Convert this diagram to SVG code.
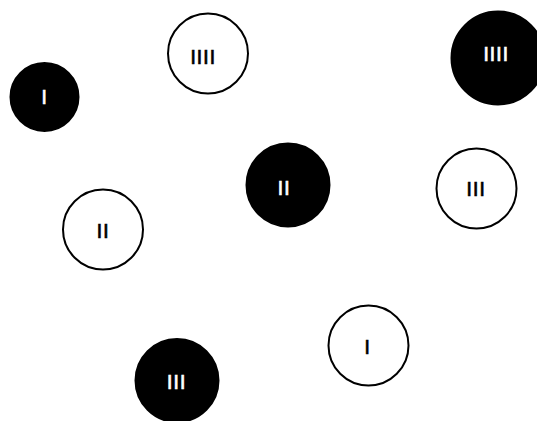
<svg xmlns="http://www.w3.org/2000/svg" width="537" height="421" viewBox="0 0 537 421">
<style>
.bk circle{fill:#000;stroke:#000;stroke-width:2}
.wh circle{fill:#fff;stroke:#000;stroke-width:2}
text{font-family:"Liberation Sans",Arial,sans-serif;font-size:21px;letter-spacing:0.6px;text-anchor:middle;dominant-baseline:central;stroke-width:0.6px}
.bk text{fill:#fff;stroke:#fff}
.wh text{fill:#000;stroke:#000}
</style>
<rect width="537" height="421" fill="#fff"/>
<g id="connectors"></g>
<g id="n-black-1" class="bk"><circle cx="44.5" cy="97" r="34"/><text x="44.5" y="96">I</text></g>
<g id="n-white-4" class="wh"><circle cx="208" cy="53.5" r="40"/><text x="203" y="56.5">IIII</text></g>
<g id="n-black-4" class="bk"><circle cx="498" cy="58" r="46.5"/><text x="496" y="53">IIII</text></g>
<g id="n-black-2" class="bk"><circle cx="288" cy="185" r="41.5"/><text x="284" y="187">II</text></g>
<g id="n-white-3" class="wh"><circle cx="476.5" cy="188.5" r="40"/><text x="476" y="188">III</text></g>
<g id="n-white-2" class="wh"><circle cx="103" cy="229.5" r="40"/><text x="103" y="230.5">II</text></g>
<g id="n-white-1" class="wh"><circle cx="368.5" cy="345.5" r="40"/><text x="367.5" y="346">I</text></g>
<g id="n-black-3" class="bk"><circle cx="177" cy="380.5" r="41.5"/><text x="176.5" y="381">III</text></g>
</svg>
